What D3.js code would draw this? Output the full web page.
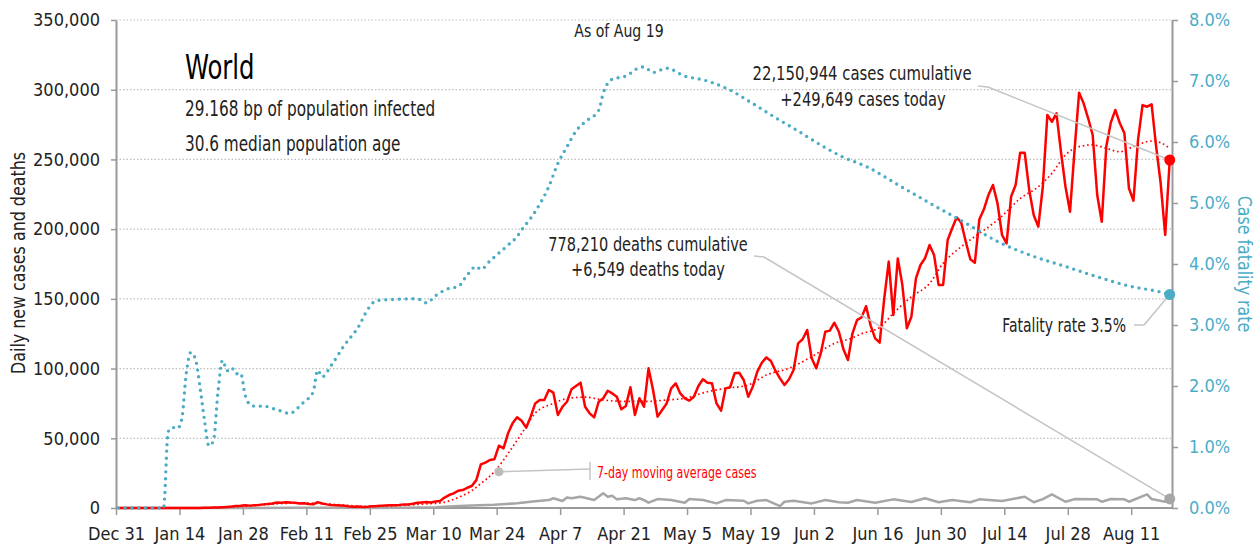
<!DOCTYPE html>
<html>
<head>
<meta charset="utf-8">
<script src="https://cdn.jsdelivr.net/npm/d3@7"></script>
<style>
  body { margin: 0; background: #fff; }
  svg text { font-family: "Liberation Sans Narrow", "DejaVu Sans Condensed", "Roboto Condensed", "Arial Narrow", sans-serif; }
</style>
</head>
<body>
<svg id="chart" width="1257" height="546"></svg>
<script>
// day 0 = Dec 31 2019, last day = Aug 19 2020
const startDay = new Date(2019, 11, 31);

// daily new cases (thousands), one per day
const dailyCases = [
  0,0,0,0,0,0,0,0,0,0,
  0,0,0,0,0,0,0,0,0,0.1,
  0.2,0.3,0.3,0.6,0.8,1.0,1.4,1.6,2.0,1.7,
  2.0,2.1,2.6,2.8,3.2,3.9,3.7,4.2,3.9,3.7,
  3.2,3.4,2.9,2.6,4.2,3.2,2.6,2.2,2.0,1.8,
  1.6,1.0,0.9,1.0,0.8,0.9,1.2,1.4,1.7,1.8,
  1.9,2.0,2.2,2.6,2.6,3.0,3.7,4.0,4.3,4.0,
  4.6,5.0,7.5,9.3,10.5,12.4,12.9,14.5,15.8,20,
  31.3,32.5,34.4,35,44.7,42.8,53.6,60.7,65,62.6,
  57.6,65.5,75,77.5,77.5,84.6,82.7,66.7,72.6,76.2,
  85.1,87.5,89.9,72.6,67.9,65,76.2,78.7,84.1,82.2,
  79.8,70.8,73.2,86.6,66.7,78.7,72.6,100.2,84.6,65.5,
  70.3,75,85.8,89.4,82.2,78.7,77,79.8,87.5,92.3,
  89.9,89.4,75,69.8,85.8,86.6,96.6,97,91.8,79.8,
  87,97.8,104.2,108,105.4,98.5,93,88.2,92.3,99,
  118.1,121,127.7,107.4,100.2,111,126.4,127.2,132.9,126.4,
  113.8,106.1,125.3,134.8,136.7,144.7,131,121.7,118.6,150,
  176.7,138.4,179,160,128.9,137.2,164.7,174.3,179.1,188.6,
  181.5,160,160,192.2,200.6,208.5,204.6,191,178.4,175.9,
  207.1,214.2,224.5,231.7,218.5,195.8,189.8,223.3,231.7,254.8,
  254.8,228,210,201.8,230.4,281.9,277,283,255.5,230.4,
  212.5,256.8,297.9,290.2,279.5,267.5,224.5,205.3,259.2,276.4,
  285.5,275.9,268.7,229.3,220.4,263.9,289,287.8,289.5,259.2,
  232.9,195.8,249.6
];

// 7-day moving average of cases (thousands), read at these days
const avgDays = [0,19,25,30,35,40,45,50,55,60,65,69,71,75,78,80,83,86,89,92,96,99,103,107,111,117,121,125,130,134,139,143,148,153,158,162,164,168,171,175,179,182,186,190,193,195,199,203,206,209,212,215,218,221,224,228,230,232];
const avgCases = [0,0.1,0.8,1.7,3.0,3.6,3.2,2.0,1.1,1.5,2.3,3.2,3.6,7.5,12.5,17.5,26,39,53.5,68,75,78.5,79.5,77.5,76.5,76.5,77.5,78.7,83.4,85.8,88.2,95.4,100.2,108.5,118,122,125,129.5,139.6,151.5,161,175.5,187.4,197,204,209.4,222,230.4,240,253.2,259.2,260.4,258,255.5,259.2,263.2,262,258];

// daily deaths (thousands), read at these days
const deathDays = [0,19,25,30,40,44,46,55,62,66,70,74,78,83,88,92,95,96,98,99,100,102,105,107,108,109,110,112,114,115,116,117,119,122,125,126,129,132,134,138,139,141,143,146,147,149,153,156,159,161,163,167,171,175,178,181,184,188,190,195,200,202,204,206,209,211,216,217,219,222,223,227,228,231,232];
const deathVals = [0,0,0.05,0.05,0.1,0.25,0.15,0.05,0.1,0.3,0.6,1.2,1.8,2.3,3.4,4.8,5.7,7.0,5.0,7.6,7.0,8.1,5.7,10.5,8.1,8.8,6.2,7.0,5.7,7.0,5.7,3.8,6.4,5.7,3.8,6.4,5.7,3.3,5.7,5.2,3.3,5.2,5.7,1.4,4.5,5.2,3.3,5.7,4.1,3.8,5.7,3.8,6.2,4.3,7.0,4.1,5.7,4.1,6.2,5.0,8.1,4.1,6.4,9.8,4.5,6.4,6.2,4.5,6.5,6.2,4.5,9.8,6.4,4.5,6.5];

// case fatality rate (%), read at these days
const cfrDays = [0,5,10,11,12,13,14,15,16,17,18,19,20,21,22,23,24,25,26,27,28,29,30,32,35,38,39,41,43,44,45,47,50,53,55,57,61,65,67,68,70,73,75,77,79,80,82,86,88,89,91,92,95,97,99,101,103,106,107,109,112,115,116,118,121,125,129,135,140,145,150,155,160,165,172,179,187,194,201,209,216,223,230,232];
const cfrVals = [0,0,0,1.25,1.32,1.3,1.45,2.2,2.55,2.45,2.0,1.45,1.02,1.1,1.9,2.42,2.25,2.3,2.2,2.21,1.85,1.7,1.67,1.67,1.61,1.55,1.6,1.74,1.9,2.26,2.15,2.34,2.68,2.97,3.25,3.4,3.42,3.43,3.41,3.36,3.48,3.6,3.63,3.82,3.96,3.91,4.05,4.31,4.45,4.56,4.75,4.86,5.27,5.65,5.92,6.18,6.33,6.52,6.8,7.03,7.08,7.22,7.23,7.14,7.21,7.08,7.02,6.85,6.63,6.4,6.18,5.95,5.75,5.6,5.3,5.0,4.67,4.37,4.15,3.96,3.79,3.64,3.54,3.5];

// axis ticks
const leftTicks = [0, 50000, 100000, 150000, 200000, 250000, 300000, 350000];
const rightTicks = [0, 0.01, 0.02, 0.03, 0.04, 0.05, 0.06, 0.07, 0.08];
const dateTicks = ["2019-12-31","2020-01-14","2020-01-28","2020-02-11","2020-02-25","2020-03-10","2020-03-24","2020-04-07","2020-04-21","2020-05-05","2020-05-19","2020-06-02","2020-06-16","2020-06-30","2020-07-14","2020-07-28","2020-08-11"];

const RED = "#ff0000", BLUE = "#4bacc6", GREY = "#a6a6a6", AXIS = "#999", LEAD = "#c4c4c4";

const svg = d3.select("#chart");
const m = { left: 116, right: 1172, top: 20, bottom: 508 };

const dayDate = (d) => new Date(2019, 11, 31 + d, 12);
const parse = d3.timeParse("%Y-%m-%d");

const x = d3.scaleTime()
  .domain([startDay, new Date(2020, 7, 20)])
  .range([m.left, m.right]);
const y = d3.scaleLinear().domain([0, 350000]).range([m.bottom, m.top]);
const yR = d3.scaleLinear().domain([0, 0.08]).range([m.bottom, m.top]);

// gridlines
svg.append("g")
  .selectAll("line")
  .data(leftTicks.filter((d) => d > 0))
  .join("line")
  .attr("x1", m.left).attr("x2", m.right)
  .attr("y1", (d) => y(d)).attr("y2", (d) => y(d))
  .attr("stroke", "#bdbdbd")
  .attr("stroke-width", 1.2)
  .attr("stroke-dasharray", "1.5 2");

// axes
const styleAxis = (g, size) => {
  g.select(".domain").attr("stroke", AXIS).attr("stroke-width", 2);
  g.selectAll(".tick line").attr("stroke", AXIS).attr("stroke-width", 1.5);
  g.selectAll("text").attr("font-size", size).attr("fill", "#222");
};

svg.append("g")
  .attr("transform", `translate(${m.left},0)`)
  .call(d3.axisLeft(y).tickValues(leftTicks).tickFormat(d3.format(",")).tickSize(5).tickSizeOuter(0).tickPadding(11))
  .call((g) => styleAxis(g, 18))
  .call((g) => g.selectAll("text").attr("font-family", null));

svg.append("g")
  .attr("transform", `translate(${m.right},0)`)
  .call(d3.axisRight(yR).tickValues(rightTicks).tickFormat(d3.format(".1%")).tickSize(6).tickSizeOuter(0).tickPadding(11))
  .call((g) => styleAxis(g, 18))
  .call((g) => g.selectAll("text").attr("fill", BLUE));

svg.append("g")
  .attr("transform", `translate(0,${m.bottom})`)
  .call(d3.axisBottom(x).tickValues(dateTicks.map(parse)).tickFormat(d3.timeFormat("%b %-d")).tickSize(7).tickSizeOuter(0).tickPadding(12))
  .call((g) => styleAxis(g, 18))
  .call((g) => g.select(".domain").attr("d", `M${m.left},0H${m.right}`));

// axis titles (squeezed a little to mimic the condensed face)
svg.append("text")
  .attr("transform", "translate(25,263) rotate(-90) scale(0.93,1)")
  .attr("text-anchor", "middle")
  .attr("font-size", 19).attr("fill", "#222")
  .text("Daily new cases and deaths");

svg.append("text")
  .attr("transform", "translate(1238,264) rotate(90) scale(0.88,1)")
  .attr("text-anchor", "middle")
  .attr("font-size", 20).attr("fill", BLUE)
  .text("Case fatality rate");

// series
const lineK = d3.line().x((d) => x(dayDate(d[0]))).y((d) => y(d[1] * 1000));

const deathPts = deathDays.map((d, i) => [d, deathVals[i]]);
svg.append("path")
  .attr("d", lineK(deathPts))
  .attr("fill", "none").attr("stroke", GREY).attr("stroke-width", 2.5)
  .attr("stroke-linejoin", "round");

const casePts = dailyCases.map((v, i) => [i, v]);
svg.append("path")
  .attr("d", lineK(casePts))
  .attr("fill", "none").attr("stroke", RED).attr("stroke-width", 2.5)
  .attr("stroke-linejoin", "round");

const avgPts = avgDays.map((d, i) => [d, avgCases[i]]);
svg.append("path")
  .attr("d", lineK.curve(d3.curveMonotoneX)(avgPts))
  .attr("fill", "none").attr("stroke", RED).attr("stroke-width", 1.7)
  .attr("stroke-dasharray", "1.6 2.8");

const cfrLine = d3.line()
  .x((d) => x(dayDate(d[0])))
  .y((d) => yR(d[1] / 100))
  .curve(d3.curveMonotoneX);
const cfrPts = cfrDays.map((d, i) => [d, cfrVals[i]]);
svg.append("path")
  .attr("d", cfrLine(cfrPts))
  .attr("fill", "none").attr("stroke", BLUE).attr("stroke-width", 3.4)
  .attr("stroke-linecap", "round")
  .attr("stroke-dasharray", "0 6.8");

// end points
const lastDay = dailyCases.length - 1;
const endX = x(dayDate(lastDay));
const caseEnd = [endX, y(dailyCases[lastDay] * 1000)];
const deathEnd = [endX, y(deathVals[deathVals.length - 1] * 1000)];
const cfrEnd = [endX, yR(cfrVals[cfrVals.length - 1] / 100)];

// leader lines
const lead = (pts) => svg.append("polyline")
  .attr("points", pts.map((p) => p.join(",")).join(" "))
  .attr("fill", "none").attr("stroke", LEAD).attr("stroke-width", 1.5);

lead([[978, 86], [988, 87], caseEnd]);
lead([[754, 256], [764, 257], deathEnd]);
lead([[1134, 325], [1144, 325], cfrEnd]);

const avgMark = [x(dayDate(84)), y(avgCases[avgDays.indexOf(83)] * 1000)];
lead([avgMark, [590, 469]]);
lead([[590, 462], [590, 480]]);

svg.append("circle").attr("cx", avgMark[0]).attr("cy", avgMark[1]).attr("r", 4.5).attr("fill", "#bbb");
svg.append("circle").attr("cx", caseEnd[0]).attr("cy", caseEnd[1]).attr("r", 5.5).attr("fill", RED);
svg.append("circle").attr("cx", deathEnd[0]).attr("cy", deathEnd[1]).attr("r", 5.5).attr("fill", GREY);
svg.append("circle").attr("cx", cfrEnd[0]).attr("cy", cfrEnd[1]).attr("r", 5.5).attr("fill", BLUE);

// text annotations, squeezed horizontally like the condensed original face
const note = (tx, ty, str, size, sx, anchor, color) => svg.append("text")
  .attr("transform", `translate(${tx},${ty}) scale(${sx},1)`)
  .attr("font-size", size)
  .attr("text-anchor", anchor || "start")
  .attr("fill", color || "#222")
  .text(str);

note(185, 79, "World", 33, 0.82).attr("fill", "#000").attr("font-weight", 500);
note(185, 116, "29.168 bp of population infected", 21.5, 0.79);
note(185, 151, "30.6 median population age", 21.5, 0.79);
note(619, 37, "As of Aug 19", 18, 0.87, "middle");
note(862, 80, "22,150,944 cases cumulative", 19, 0.87, "middle");
note(863, 106, "+249,649 cases today", 19, 0.86, "middle");
note(648, 251, "778,210 deaths cumulative", 19, 0.85, "middle");
note(648, 276, "+6,549 deaths today", 19, 0.85, "middle");
note(1126, 332, "Fatality rate 3.5%", 19, 0.82, "end");
note(597, 478, "7-day moving average cases", 15, 0.82, "start", RED);
</script>
</body>
</html>
